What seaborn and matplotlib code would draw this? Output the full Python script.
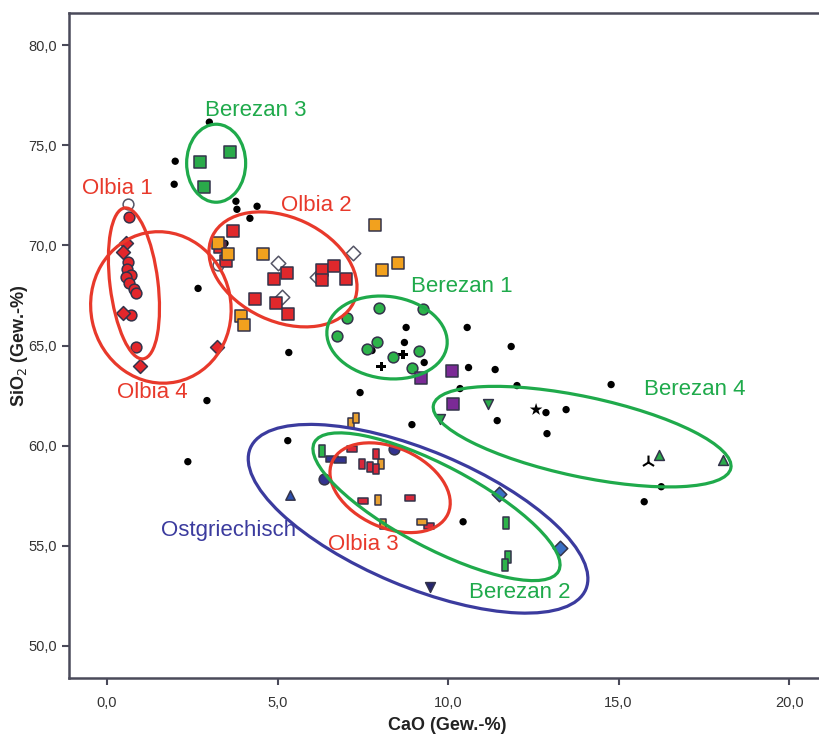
import numpy as np
import pandas as pd
import seaborn as sns
import matplotlib.pyplot as plt
from matplotlib.patches import Ellipse
from matplotlib.markers import MarkerStyle
from matplotlib.transforms import Affine2D, ScaledTranslation

# --- data: CaO (x) / SiO2 (y) ---
dots_x = [3.0, 2.0, 1.97, 3.78, 3.81, 4.4, 4.19, 2.67, 3.46, 5.33, 8.77, 8.72, 7.77, 9.3,
          10.56, 11.85, 10.6, 11.38, 2.93, 2.37, 5.3, 7.42, 8.94, 10.35, 12.02, 14.78,
          11.44, 12.87, 13.46, 12.9, 16.25, 15.75, 10.44]
dots_y = [76.15, 74.2, 73.05, 72.2, 71.8, 71.95, 71.35, 67.85, 70.1, 64.65, 65.9, 65.15, 64.75, 64.15,
          65.9, 64.95, 63.9, 63.8, 62.25, 59.2, 60.25, 62.65, 61.05, 62.85, 63.0, 63.05,
          61.25, 61.65, 61.8, 60.6, 57.95, 57.2, 56.2]

plus_x = [8.04, 8.68]
plus_y = [63.95, 64.55]
star_x = [12.58]
star_y = [61.8]
tri_x = [15.87]
tri_y = [59.2]

olbia1_x = [0.65, 0.62, 0.59, 0.70, 0.56, 0.65, 0.79, 0.85, 0.70, 0.85]
olbia1_y = [71.4, 69.15, 68.8, 68.5, 68.4, 68.1, 67.8, 67.6, 66.5, 64.95]
olbia4_x = [0.56, 0.47, 0.47, 0.97, 3.23]
olbia4_y = [70.1, 69.65, 66.6, 64.0, 64.95]
white_circ_x = [0.62, 3.26]
white_circ_y = [72.05, 69.0]
white_diam_x = [5.01, 7.21, 5.13, 6.16]
white_diam_y = [69.1, 69.6, 67.4, 68.4]

olbia2_x = [3.7, 3.31, 3.49, 5.28, 4.9, 6.3, 6.66, 6.3, 7.0, 4.34, 4.96, 5.31]
olbia2_y = [70.7, 69.9, 69.2, 68.6, 68.3, 68.75, 68.95, 68.25, 68.3, 67.3, 67.1, 66.55]
orange_x = [3.26, 3.55, 4.57, 3.93, 4.02, 7.86, 8.06, 8.53]
orange_y = [70.1, 69.55, 69.55, 66.45, 66.0, 71.0, 68.75, 69.1]

berezan3_x = [2.73, 3.6, 2.84]
berezan3_y = [74.15, 74.65, 72.9]
berezan1_x = [7.04, 7.98, 9.27, 6.74, 7.62, 7.92, 8.39, 9.15, 8.94]
berezan1_y = [66.35, 66.85, 66.8, 65.45, 64.85, 65.15, 64.45, 64.75, 63.9]
purple_x = [10.12, 9.2, 10.15]
purple_y = [63.75, 63.4, 62.1]
green_up_x = [16.19, 18.06]
green_up_y = [59.55, 59.3]
green_down_x = [11.18, 9.77]
green_down_y = [62.1, 61.35]
navy_down_x = [9.47]
navy_down_y = [52.95]
blue_tri_x = [5.37]
blue_tri_y = [57.55]
blue_diam_x = [11.5, 13.28]
blue_diam_y = [57.6, 54.9]
navy_circ_x = [6.36, 8.42]
navy_circ_y = [58.35, 59.85]

orange_bar_x = [7.16, 7.3, 8.03, 7.95, 8.09]
orange_bar_y = [61.15, 61.4, 59.1, 57.3, 56.1]
red_bar_x = [7.48, 7.89, 7.71, 7.89]
red_bar_y = [59.1, 59.6, 58.95, 58.85]
red_hbar_x = [7.18, 7.5, 8.89, 9.44]
red_hbar_y = [59.85, 57.25, 57.4, 56.0]
orange_hbar_x = [9.24]
orange_hbar_y = [56.2]
green_bar_x = [6.3, 11.7, 11.76, 11.67]
green_bar_y = [59.75, 56.15, 54.45, 54.05]
navy_hbar_x = [6.6, 6.83]
navy_hbar_y = [59.35, 59.3]

group_names = ["Berezan 3", "Olbia 1", "Olbia 2", "Berezan 1", "Olbia 4",
               "Berezan 4", "Ostgriechisch", "Olbia 3", "Berezan 2"]
label_x = [4.37, 0.29, 6.13, 10.41, 1.32, 17.24, 3.55, 7.51, 12.11]
label_y = [76.75, 72.85, 72.0, 67.95, 62.65, 62.8, 55.75, 55.05, 52.65]
# ellipse centre (data) and size in pixels / angle
ell_cx = [3.20, 0.79, 5.16, 8.21, 1.58, 13.93, 9.12, 8.30, 9.66]
ell_cy = [74.1, 68.1, 68.8, 65.4, 66.9, 60.45, 56.35, 57.9, 56.95]
ell_w = [59, 152, 156, 121, 140, 304, 364, 127, 276]
ell_h = [78, 48, 104, 82, 152, 80, 136, 80, 82]
ell_ang = [0, 97, -25, -8, 12, -12, -22.8, -24.4, -27.8]

RED = "#e8392b"
GREEN = "#1faa4b"
NAVY = "#3b3b9e"
group_col = [GREEN, RED, RED, GREEN, RED, GREEN, NAVY, RED, GREEN]

sns.set_style("white")
plt.rcParams['font.family'] = ['Liberation Sans', 'DejaVu Sans']

fig = plt.figure(figsize=(8.2, 7.35), dpi=100)
ax = fig.add_axes([69 / 820, 1 - 678 / 735, (826 - 69) / 820, (678 - 13) / 735])

vbar = MarkerStyle('s', transform=Affine2D().scale(0.5, 1.0))
hbar = MarkerStyle('s', transform=Affine2D().scale(1.0, 0.5))
EDGE = "#33334a"

layers = [
    (dots_x, dots_y, 'o', 'black', 'none', 28),
    (plus_x, plus_y, 'P', 'black', 'none', 50),
    (star_x, star_y, '*', 'black', 'none', 90),
    (tri_x, tri_y, '2', 'black', None, 100),
    (olbia1_x, olbia1_y, 'o', '#e3262b', EDGE, 60),
    (olbia4_x, olbia4_y, 'D', '#e3262b', EDGE, 50),
    (white_circ_x, white_circ_y, 'o', 'white', '#555566', 60),
    (white_diam_x, white_diam_y, 'D', 'white', '#555566', 55),
    (olbia2_x, olbia2_y, 's', '#e0282c', EDGE, 70),
    (orange_x, orange_y, 's', '#f2a11e', EDGE, 65),
    (berezan3_x, berezan3_y, 's', '#2aaa4a', EDGE, 65),
    (berezan1_x, berezan1_y, 'o', '#2db34a', EDGE, 60),
    (purple_x, purple_y, 's', '#7b2a96', EDGE, 75),
    (green_up_x, green_up_y, '^', '#2aaa4a', EDGE, 50),
    (green_down_x, green_down_y, 'v', '#2aaa4a', EDGE, 50),
    (navy_down_x, navy_down_y, 'v', '#24246e', EDGE, 50),
    (blue_tri_x, blue_tri_y, '^', '#2c4fae', EDGE, 45),
    (blue_diam_x, blue_diam_y, 'D', '#3a70c4', EDGE, 55),
    (navy_circ_x, navy_circ_y, 'o', '#33338f', EDGE, 60),
    (orange_bar_x, orange_bar_y, vbar, '#e8a030', EDGE, 60),
    (red_bar_x, red_bar_y, vbar, '#d8283a', EDGE, 60),
    (red_hbar_x, red_hbar_y, hbar, '#d8283a', EDGE, 60),
    (orange_hbar_x, orange_hbar_y, hbar, '#e8a030', EDGE, 60),
    (green_bar_x, green_bar_y, vbar, '#2db34a', EDGE, 85),
    (navy_hbar_x, navy_hbar_y, hbar, '#33338f', EDGE, 75),
]

for xs, ys, mk, fc, ec, s in layers:
    df = pd.DataFrame({"CaO": xs, "SiO2": ys})
    if ec is None:
        sns.scatterplot(data=df, x="CaO", y="SiO2", marker=mk, color=fc, s=s,
                        linewidth=1.5, ax=ax, zorder=3)
    else:
        sns.scatterplot(data=df, x="CaO", y="SiO2", marker=mk, color=fc, s=s,
                        edgecolor=ec, linewidth=1.1, ax=ax, zorder=3)

# group ellipses: sized in pixels, centred in data coordinates
for cx, cy, w, h, a, c in zip(ell_cx, ell_cy, ell_w, ell_h, ell_ang, group_col):
    tr = fig.dpi_scale_trans + ScaledTranslation(cx, cy, ax.transData)
    ax.add_patch(Ellipse((0, 0), w / 100, h / 100, angle=a, transform=tr,
                         fill=False, edgecolor=c, linewidth=2.3, zorder=4))

for name, lx, ly, c in zip(group_names, label_x, label_y, group_col):
    ax.text(lx, ly, name, color=c, fontsize=16, ha='center', va='center', zorder=5)

ax.set_xlim(-1.114, 21.08)
ax.set_ylim(48.4, 81.6)
ax.set_xticks([0, 5, 10, 15, 20])
ax.set_yticks([50, 55, 60, 65, 70, 75, 80])
ax.set_xticklabels([f"{v:.1f}".replace('.', ',') for v in [0, 5, 10, 15, 20]])
ax.set_yticklabels([f"{v:.1f}".replace('.', ',') for v in [50, 55, 60, 65, 70, 75, 80]])
ax.tick_params(axis='both', direction='out', length=5, width=1.5, color='#4a4a5a',
               labelsize=10.5, labelcolor='#333333', bottom=True, left=True)
ax.tick_params(axis='x', pad=8)
for sp in ax.spines.values():
    sp.set_color('#4a4a5a')
    sp.set_linewidth(1.8)

ax.set_xlabel("CaO (Gew.-%)", fontsize=13, fontweight='bold', color='#222222', va='center')
ax.set_ylabel("SiO$_2$ (Gew.-%)", fontsize=13, fontweight='bold', color='#222222', va='center')
ax.xaxis.set_label_coords(0.5, -0.072)
ax.yaxis.set_label_coords(-0.066, 0.5)
ax.grid(False)

fig.savefig("out.png", dpi=100)
